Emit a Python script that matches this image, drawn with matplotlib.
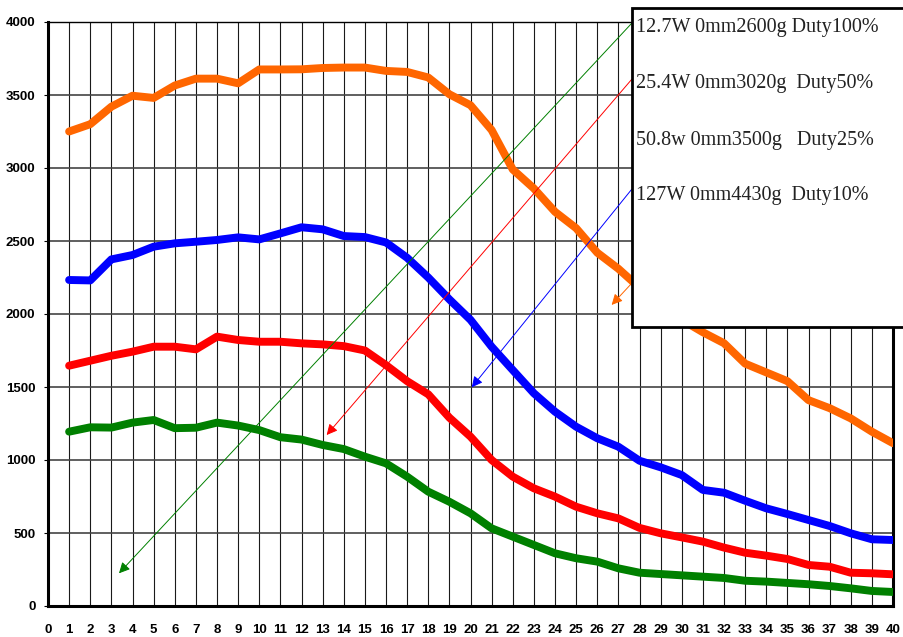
import numpy as np
import matplotlib.pyplot as plt
from matplotlib.patches import Rectangle

x = np.arange(1, 41)

orange = [3250, 3300, 3420, 3495, 3480, 3565, 3612, 3612, 3580, 3675,
          3675, 3676, 3685, 3688, 3688, 3665, 3658, 3620, 3505, 3430,
          3260, 2990, 2860, 2700, 2588, 2420, 2310, 2180, 2070, 1960,
          1875, 1800, 1660, 1600, 1540, 1410, 1355, 1285, 1194, 1115]
blue = [2233, 2230, 2374, 2404, 2461, 2484, 2495, 2507, 2525, 2511,
        2552, 2594, 2580, 2534, 2527, 2490, 2385, 2250, 2100, 1960,
        1776, 1616, 1457, 1331, 1228, 1149, 1091, 995, 950, 897,
        795, 776, 721, 669, 630, 589, 548, 498, 457, 452]
red = [1646, 1680, 1714, 1742, 1776, 1776, 1758, 1845, 1822, 1810,
       1810, 1799, 1792, 1780, 1750, 1650, 1540, 1450, 1290, 1160,
       1000, 886, 806, 749, 680, 635, 600, 535, 498, 470,
       441, 400, 365, 345, 322, 281, 269, 228, 224, 217]
green = [1194, 1224, 1222, 1256, 1274, 1218, 1221, 1256, 1236, 1205,
         1156, 1140, 1103, 1075, 1023, 977, 886, 783, 714, 635,
         532, 475, 418, 361, 327, 304, 258, 228, 219, 210,
         201, 192, 173, 167, 158, 149, 137, 121, 103, 96]

labels = ['12.7W 0mm2600g Duty100%',
          '25.4W 0mm3020g  Duty50%',
          '50.8w 0mm3500g   Duty25%',
          '127W 0mm4430g  Duty10%']
# arrow tail (at box edge) and head, data coords
arrow_from = [(27.63, 3991), (27.63, 3607), (27.63, 2854), (27.63, 2210)]
arrow_to = [(3.36, 224), (13.19, 1171), (20.06, 1498), (26.68, 2062)]
arrow_cols = ['#008000', '#FF0000', '#0000FF', '#FF6600']

fig = plt.figure(figsize=(9.04, 6.37), dpi=100)
ax = fig.add_axes([48/904, 31/637, (893-48)/904, (606-22)/637])

for xv in range(1, 40):
    ax.axvline(xv, color='#1a1a1a', lw=0.8, zorder=1)
for yv in range(500, 4001, 500):
    ax.axhline(yv, color='#444444', lw=1.2, zorder=1)

lw = 5.7
ax.plot(x, orange, color='#FF6600', lw=lw, solid_joinstyle='round', solid_capstyle='round', zorder=3)
ax.plot(x, blue, color='#0000FF', lw=lw, solid_joinstyle='round', solid_capstyle='round', zorder=3)
ax.plot(x, red, color='#FF0000', lw=lw, solid_joinstyle='round', solid_capstyle='round', zorder=3)
ax.plot(x, green, color='#008000', lw=lw, solid_joinstyle='round', solid_capstyle='round', zorder=3)

for (x0, y0), (x1, y1), c in zip(arrow_from, arrow_to, arrow_cols):
    ax.annotate('', xy=(x1, y1), xytext=(x0, y0), annotation_clip=False,
                arrowprops=dict(arrowstyle='-|>', color=c, lw=0.7,
                                mutation_scale=16, shrinkA=0, shrinkB=0),
                zorder=4)

ax.set_xlim(0, 40)
ax.set_ylim(0, 4000)
ax.set_xticks(range(0, 41))
ax.set_yticks(range(0, 4001, 500))
ax.tick_params(axis='x', length=0, pad=13)
ax.tick_params(axis='y', length=3, pad=6)
for lab in ax.get_xticklabels() + ax.get_yticklabels():
    lab.set_fontfamily('Liberation Sans')
    lab.set_fontweight('bold')
    lab.set_fontsize(9.5)
for s in ['left', 'bottom', 'right']:
    ax.spines[s].set_linewidth(2.2)
ax.spines['top'].set_linewidth(1.0)

box = Rectangle((632/904, (637-327)/637), 0.32, (327-8)/637, transform=fig.transFigure,
                facecolor='white', edgecolor='black', lw=2, zorder=5)
fig.add_artist(box)
for lab, py in zip(labels, [32.3, 88.3, 145, 200]):
    fig.text(636/904, (637-py)/637, lab, family='Liberation Serif', fontsize=14.5,
             color='#222222', va='baseline', ha='left', zorder=6)

fig.savefig('out.png', dpi=100)
